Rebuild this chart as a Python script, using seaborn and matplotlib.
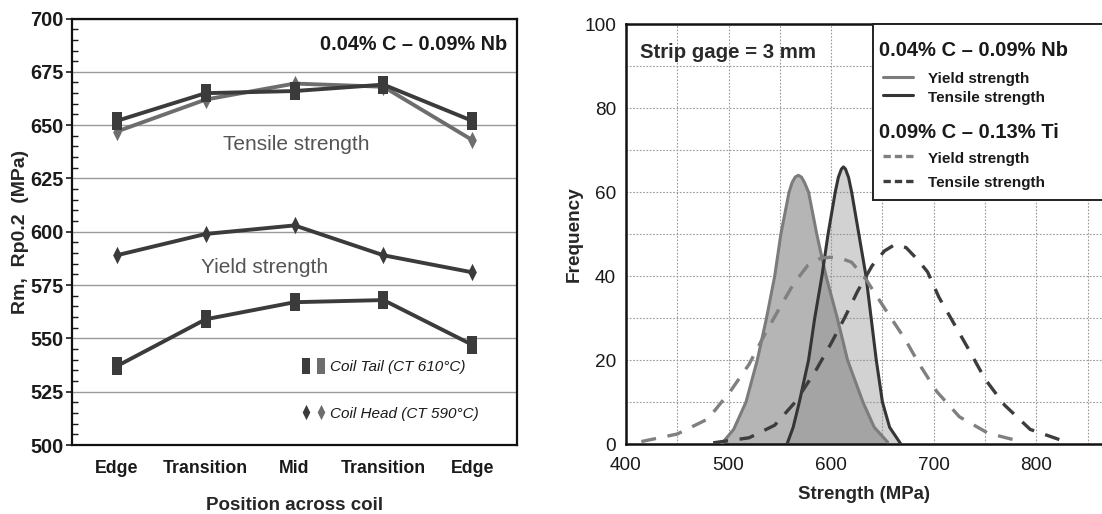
import seaborn as sns
import matplotlib.pyplot as plt
from matplotlib.path import Path
from matplotlib.lines import Line2D
from matplotlib.patches import Rectangle
from matplotlib.legend_handler import HandlerTuple
from matplotlib.ticker import MultipleLocator

# left panel: strength across the coil width
positions = ["Edge", "Transition", "Mid", "Transition", "Edge"]
pos_idx = [0, 1, 2, 3, 4]
tensile_tail = [652, 665, 666, 669, 652]
tensile_head = [647, 662, 669.5, 668, 643]
yield_head = [589, 599, 603, 589, 581]
yield_tail = [537, 559, 567, 568, 547]

# right panel: strength distributions
nb_ys_x = [493, 505, 517, 528, 537, 545, 551, 559, 562, 565, 568, 571, 574, 578, 586, 595, 606, 616, 631, 642, 655]
nb_ys_y = [0, 3.5, 10, 20, 30, 40, 50, 60, 62.3, 63.6, 64, 63.6, 62.3, 60, 50, 40, 30, 20, 10, 4, 0.5]
nb_ts_x = [557, 563, 569, 578, 584, 591, 597, 604, 607, 610, 612, 614, 617, 620, 627, 634, 639, 644, 650, 657, 668]
nb_ts_y = [0, 4, 10, 20, 30, 40, 50, 60, 63.5, 65.5, 66, 65.5, 63.5, 60, 50, 40, 30, 20, 10, 4, 0]
ti_ys_x = [415, 450, 480, 503, 520, 535, 550, 563, 577, 590, 600, 610, 620, 634, 653, 672, 686, 703, 725, 753, 785]
ti_ys_y = [0.6, 2.4, 6, 13, 19, 26, 32.5, 38, 42.5, 44.3, 44.5, 44.2, 43.3, 39.2, 32, 25, 19, 12.5, 6.5, 2.6, 0.6]
ti_ts_x = [485, 520, 545, 565, 585, 600, 613, 626, 640, 652, 662, 673, 684, 694, 705, 719, 733, 750, 769, 794, 828]
ti_ts_y = [0.3, 1.5, 4.5, 10, 17.5, 24, 30, 36.5, 42.5, 46, 47.5, 46.8, 44, 41, 35, 29, 23, 15.5, 9.3, 3.5, 0.6]

sns.set_theme(style="white")
plt.rcParams["font.family"] = ["Liberation Sans", "DejaVu Sans"]
plt.rcParams["axes.edgecolor"] = "#111111"
plt.rcParams["text.color"] = "#1a1a1a"
plt.rcParams["xtick.color"] = "#1a1a1a"
plt.rcParams["ytick.color"] = "#1a1a1a"

DARK = "#3b3b3b"
GRAY = "#6d6d6d"

# tall rectangle and narrow diamond markers
rect = Path([(-0.55, -1), (0.55, -1), (0.55, 1), (-0.55, 1), (-0.55, -1)], closed=True)
diam = Path([(0, -1), (0.5, 0), (0, 1), (-0.5, 0), (0, -1)], closed=True)

fig = plt.figure(figsize=(11.02, 5.14), dpi=100)

# ---------------- left panel ----------------
ax1 = fig.add_axes([0.0656, 0.134, 0.4034, 0.830])
mk = dict(markersize=12.5, markeredgewidth=0, linewidth=2.8)
sns.lineplot(x=pos_idx, y=tensile_head, color=GRAY, marker=diam, ax=ax1, **mk)
sns.lineplot(x=pos_idx, y=tensile_tail, color=DARK, marker=rect, ax=ax1, **mk)
sns.lineplot(x=pos_idx, y=yield_head, color=DARK, marker=diam, ax=ax1, **mk)
sns.lineplot(x=pos_idx, y=yield_tail, color=DARK, marker=rect, ax=ax1, **mk)

ax1.set_xlim(-0.5, 4.5)
ax1.set_ylim(500, 700)
ax1.yaxis.set_major_locator(MultipleLocator(25))
ax1.yaxis.set_minor_locator(MultipleLocator(5))
ax1.set_xticks(pos_idx)
ax1.set_xticklabels(positions, fontsize=12.8, fontweight="bold")
ax1.set_xticks([-0.5, 0.5, 1.5, 2.5, 3.5, 4.5], minor=True)
ax1.tick_params(axis="x", which="major", length=0, pad=11)
ax1.tick_params(axis="x", which="minor", length=6, width=1, direction="out", color="#555555")
ax1.tick_params(axis="y", which="major", length=4, width=1.2, direction="out", labelsize=14.3, pad=2, left=True)
ax1.tick_params(axis="y", which="minor", length=4, width=1, direction="in", left=True)
for t in ax1.get_yticklabels():
    t.set_fontweight("bold")
ax1.yaxis.grid(True, which="major", color="#9a9a9a", linewidth=1)
ax1.set_axisbelow(True)
for s in ax1.spines.values():
    s.set_linewidth(1.6)
ax1.set_xlabel("Position across coil", fontsize=13.5, fontweight="bold", labelpad=14)
ax1.set_ylabel("Rm,  Rp0.2  (MPa)", fontsize=14, fontweight="bold", labelpad=1)

ax1.text(0.978, 0.94, "0.04% C \u2013 0.09% Nb", transform=ax1.transAxes,
         ha="right", va="center", fontsize=14.3, fontweight="bold")
ax1.text(2.02, 641, "Tensile strength", ha="center", va="center", fontsize=15, color="#555555")
ax1.text(1.66, 583.5, "Yield strength", ha="center", va="center", fontsize=15, color="#555555")

sq = (Line2D([], [], color=DARK, marker=rect, ls="none", markersize=11.5, markeredgewidth=0),
      Line2D([], [], color=GRAY, marker=rect, ls="none", markersize=11.5, markeredgewidth=0))
dm = (Line2D([], [], color=DARK, marker=diam, ls="none", markersize=11, markeredgewidth=0),
      Line2D([], [], color=GRAY, marker=diam, ls="none", markersize=11, markeredgewidth=0))
ax1.legend([sq, dm], ["Coil Tail (CT 610\u00b0C)", "Coil Head (CT 590\u00b0C)"],
           handler_map={tuple: HandlerTuple(ndivide=None, pad=0.3)},
           loc="center left", bbox_to_anchor=(0.515, 0.128), frameon=False,
           prop=dict(size=11, style="italic"), labelspacing=2.1,
           handlelength=1.6, handletextpad=0.3, borderaxespad=0, borderpad=0)

# ---------------- right panel ----------------
ax2 = fig.add_axes([0.568, 0.136, 0.432, 0.817])
ax2.fill_between(nb_ys_x, nb_ys_y, color="#b5b5b5", lw=0, zorder=2)
ax2.fill_between(nb_ts_x, nb_ts_y, color="#8b8b8b", alpha=0.39, lw=0, zorder=2)
sns.lineplot(x=nb_ys_x, y=nb_ys_y, color="#7c7c7c", linewidth=2.2, ax=ax2, zorder=3)
sns.lineplot(x=nb_ts_x, y=nb_ts_y, color="#353535", linewidth=2.2, ax=ax2, zorder=3)
sns.lineplot(x=ti_ys_x, y=ti_ys_y, color="#808080", linewidth=2.4, linestyle=(0, (4.5, 3.5)),
             ax=ax2, zorder=4)
sns.lineplot(x=ti_ts_x, y=ti_ts_y, color="#3d3d3d", linewidth=2.4, linestyle=(0, (4.5, 3.5)),
             ax=ax2, zorder=4)
curves = list(ax2.get_lines())

ax2.set_xlim(400, 864)
ax2.set_ylim(0, 100)
ax2.xaxis.set_major_locator(MultipleLocator(100))
ax2.xaxis.set_minor_locator(MultipleLocator(50))
ax2.yaxis.set_major_locator(MultipleLocator(20))
ax2.yaxis.set_minor_locator(MultipleLocator(10))
ax2.grid(True, which="both", color="#9a9a9a", linewidth=0.8, linestyle=(0, (1.5, 1.5)))
ax2.set_axisbelow(True)
ax2.tick_params(which="both", length=0, labelsize=13.7)
ax2.tick_params(axis="x", pad=9)
ax2.tick_params(axis="y", pad=7)
ax2.spines["right"].set_visible(False)
for s in ["left", "top", "bottom"]:
    ax2.spines[s].set_linewidth(1.8)
ax2.set_xlabel("Strength (MPa)", fontsize=13.4, fontweight="bold", labelpad=9)
ax2.set_ylabel("Frequency", fontsize=13.7, fontweight="bold", labelpad=1)

ax2.text(413.5, 93.3, "Strip gage = 3 mm", ha="left", va="center", fontsize=14.7, fontweight="bold", color="#2a2a2a")

# legend box drawn by hand (two alloy groups with bold headings)
ax2.add_patch(Rectangle((0.518, 0.581), 0.49, 0.419, transform=ax2.transAxes,
                        facecolor="white", edgecolor="#222222", lw=1.4, zorder=5, clip_on=False))
groups = [("0.04% C \u2013 0.09% Nb", 0.938, curves[0:2], [0.869, 0.825]),
          ("0.09% C \u2013 0.13% Ti", 0.742, curves[2:4], [0.679, 0.621])]
for title, ty, lns, rows in groups:
    ax2.text(0.5315, ty, title, transform=ax2.transAxes, ha="left", va="center",
             fontsize=14.5, fontweight="bold", zorder=6)
    for ln, ry, lab in zip(lns, rows, ["Yield strength", "Tensile strength"]):
        key = Line2D([0.539, 0.603], [ry + 0.006, ry + 0.006], transform=ax2.transAxes,
                     color=ln.get_color(), linewidth=ln.get_linewidth(),
                     linestyle=ln.get_linestyle(), zorder=6, clip_on=False)
        if ln.get_linestyle() != "-":
            key.set_dashes((2.2, 1.2))
        ax2.add_artist(key)
        ax2.text(0.634, ry, lab, transform=ax2.transAxes, ha="left", va="center",
                 fontsize=11, fontweight="bold", zorder=6)

fig.savefig("out.png", dpi=100)
